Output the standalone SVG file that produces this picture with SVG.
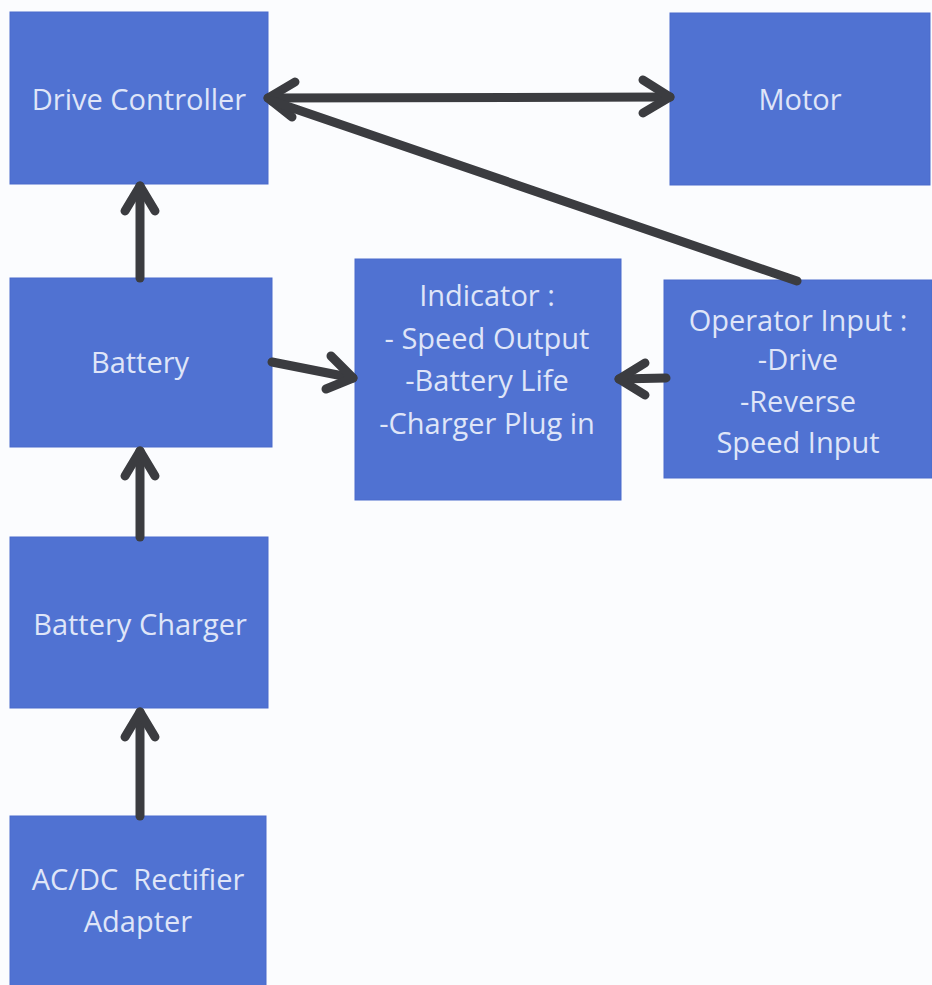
<svg xmlns="http://www.w3.org/2000/svg" width="932" height="985" viewBox="0 0 932 985">
<style>
.box{fill:#5072d2;stroke:#4a6acb;stroke-width:1}
.t{font-family:"Open Sans","Noto Sans",sans-serif;font-size:29px;fill:#dfe5f8;text-anchor:middle;white-space:pre}
.c{fill:none;stroke:#3b3c40;stroke-width:9;stroke-linecap:round;stroke-linejoin:round}
</style>
<rect width="932" height="985" fill="#fbfcfe"/>
<g id="drive-controller"><rect class="box" x="10" y="12" width="258" height="172"/><text class="t" x="139" y="110">Drive Controller</text></g>
<g id="motor"><rect class="box" x="670" y="13" width="260" height="172"/><text class="t" x="800" y="110">Motor</text></g>
<g id="battery"><rect class="box" x="10" y="278" width="262" height="169"/><text class="t" x="140" y="373">Battery</text></g>
<g id="indicator"><rect class="box" x="355" y="259" width="266" height="241"/>
<text class="t" x="487" y="306">Indicator :</text>
<text class="t" x="487" y="349">- Speed Output</text>
<text class="t" x="487" y="391">-Battery Life</text>
<text class="t" x="487" y="434">-Charger Plug in</text></g>
<g id="operator-input"><rect class="box" x="664" y="280" width="268" height="198"/>
<text class="t" x="798" y="331">Operator Input :</text>
<text class="t" x="798" y="370">-Drive</text>
<text class="t" x="798" y="412">-Reverse</text>
<text class="t" x="798" y="453">Speed Input</text></g>
<g id="battery-charger"><rect class="box" x="10" y="537" width="258" height="171"/><text class="t" x="140" y="635">Battery Charger</text></g>
<g id="acdc-adapter"><rect class="box" x="10" y="816" width="256" height="175"/>
<text class="t" x="138" y="890">AC/DC  Rectifier</text>
<text class="t" x="138" y="932">Adapter</text></g>
<g id="connectors">
<path class="c" d="M268 98 L670 97"/>
<path class="c" d="M295 82 L268 98 L292 117"/>
<path class="c" d="M643 80 L670 97 L643 113"/>
<path class="c" d="M797 281 L272 101"/>
<path class="c" d="M140 278 L140 186"/>
<path class="c" d="M125 211 L140 186 L155 211"/>
<path class="c" d="M272 362 L353 378"/>
<path class="c" d="M331 356 L353 378 L326 389"/>
<path class="c" d="M666 378 L619 379"/>
<path class="c" d="M645 363 L619 379 L645 395"/>
<path class="c" d="M140 537 L140 451"/>
<path class="c" d="M125 476 L140 451 L155 476"/>
<path class="c" d="M140 816 L140 712"/>
<path class="c" d="M125 737 L140 712 L155 737"/>
</g>
</svg>
